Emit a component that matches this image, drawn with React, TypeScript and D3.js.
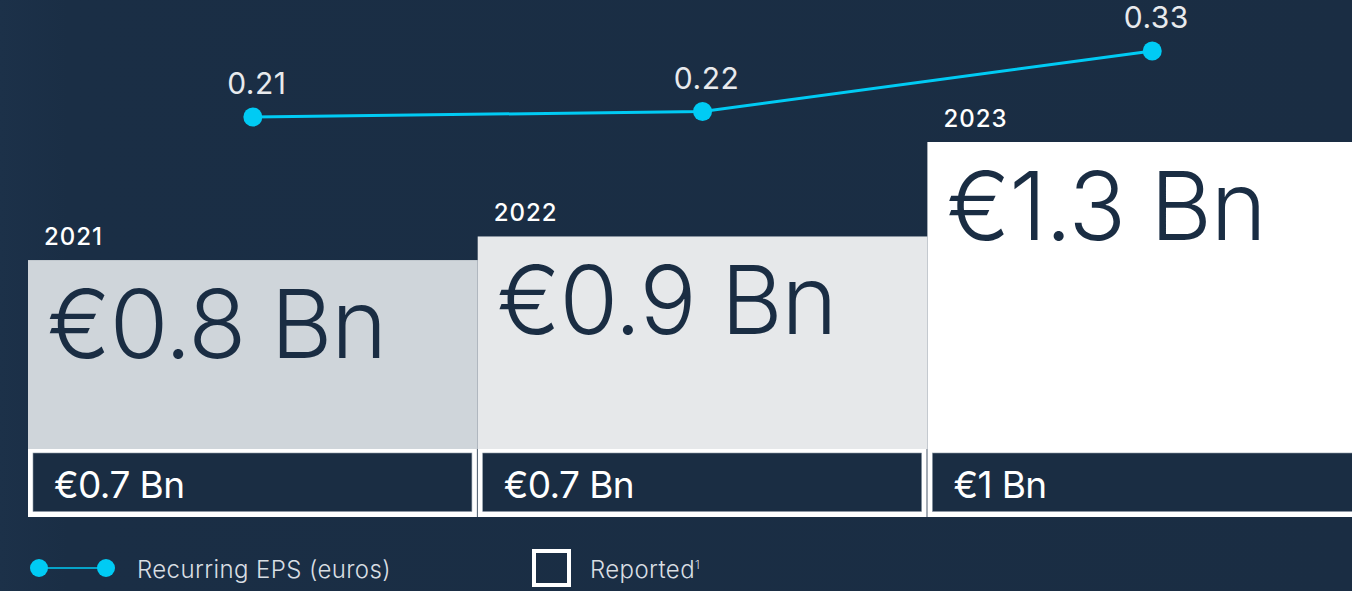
import React from "react";
import * as d3 from "d3";

const years = ["2021", "2022", "2023"];
const recurringNetIncome = [0.8, 0.9, 1.3];
const recurringLabels = ["€0.8 Bn", "€0.9 Bn", "€1.3 Bn"];
const reportedLabels = ["€0.7 Bn", "€0.7 Bn", "€1 Bn"];
const eps = [0.21, 0.22, 0.33];
const epsLabels = ["0.21", "0.22", "0.33"];
const barFills = ["#cfd5da", "#e6e8ea", "#ffffff"];

const W = 1352;
const H = 591;
const FONT = "Inter, 'Noto Sans', sans-serif";
const BG = "#1a2d43";
const NAVY = "#1a2d43";
const CYAN = "#00cbf4";

export default function App() {
  const x = d3.scaleBand<string>().domain(years).range([28, 28 + 3 * 449.7]).padding(0);
  const y = d3.scaleLinear().domain([0, 1.3]).range([449, 142]);
  const yEps = d3.scaleLinear().domain([0.21, 0.33]).range([117, 51]);
  const bw = x.bandwidth();
  const boxTop = 449;
  const boxBottom = 517;

  const line = d3
    .line<number>()
    .x((_, i) => (x(years[i]) as number) + bw / 2)
    .y((d) => yEps(d));

  return (
    <svg
      width={W}
      height={H}
      style={{ position: "absolute", left: 0, top: 0, display: "block" }}
      fontFamily={FONT}
    >
      <defs>
        <linearGradient id="bgGrad" x1="0" y1="0" x2="1" y2="0">
          <stop offset="0" stopColor="#1c3149" />
          <stop offset="0.05" stopColor="#1a2e45" />
          <stop offset="1" stopColor={BG} />
        </linearGradient>
      </defs>
      <rect x={0} y={0} width={W} height={H} fill="url(#bgGrad)" />

      {years.map((yr, i) => {
        const x0 = x(yr) as number;
        const top = y(recurringNetIncome[i]);
        return (
          <g key={yr}>
            <rect x={x0} y={top} width={bw} height={boxTop - top} fill={barFills[i]} />
            <text
              x={x0 + 16}
              y={top - 15}
              fill="#ffffff"
              fontSize={24}
              fontWeight={500}
              letterSpacing={1}
            >
              {yr}
            </text>
            <text
              x={x0 + 19}
              y={top + 98}
              fill={NAVY}
              fontSize={95}
              fontWeight={300}
              letterSpacing={-1.2}
            >
              {recurringLabels[i]}
            </text>
            <rect x={x0} y={boxTop} width={bw - 0.8} height={boxBottom - boxTop} fill="#ffffff" />
            <rect
              x={x0 + 5}
              y={boxTop + 4}
              width={bw - 10.8}
              height={boxBottom - boxTop - 9.5}
              fill={NAVY}
              stroke="#8a97a4"
              strokeWidth={0.6}
            />
            <text
              x={x0 + 26}
              y={498}
              fill="#ffffff"
              fontSize={37}
              fontWeight={400}
              letterSpacing={-0.6}
            >
              {reportedLabels[i]}
            </text>
          </g>
        );
      })}

      <path d={line(eps) || ""} fill="none" stroke={CYAN} strokeWidth={3} />
      {eps.map((v, i) => {
        const cx = (x(years[i]) as number) + bw / 2;
        return (
          <g key={i}>
            <circle cx={cx} cy={yEps(v)} r={9.5} fill={CYAN} />
            <text
              x={cx + 4}
              y={yEps(v) - 23}
              fill="#e8eaed"
              fontSize={30}
              fontWeight={400}
              textAnchor="middle"
              letterSpacing={0.5}
            >
              {epsLabels[i]}
            </text>
          </g>
        );
      })}

      <g>
        <line x1={39} x2={106} y1={568} y2={568} stroke={CYAN} strokeWidth={1.5} />
        <circle cx={39} cy={568} r={9} fill={CYAN} />
        <circle cx={106} cy={568} r={9} fill={CYAN} />
        <text x={137} y={578} fill="#d9dee3" fontSize={24} fontWeight={300} letterSpacing={0.4}>
          Recurring EPS (euros)
        </text>
        <rect x={534} y={551} width={35} height={34} fill="none" stroke="#ffffff" strokeWidth={4} />
        <text x={590} y={578} fill="#d9dee3" fontSize={24} fontWeight={300} letterSpacing={0.4}>
          Reported
          <tspan fontSize={12} dy={-9}>
            1
          </tspan>
        </text>
      </g>
    </svg>
  );
}
